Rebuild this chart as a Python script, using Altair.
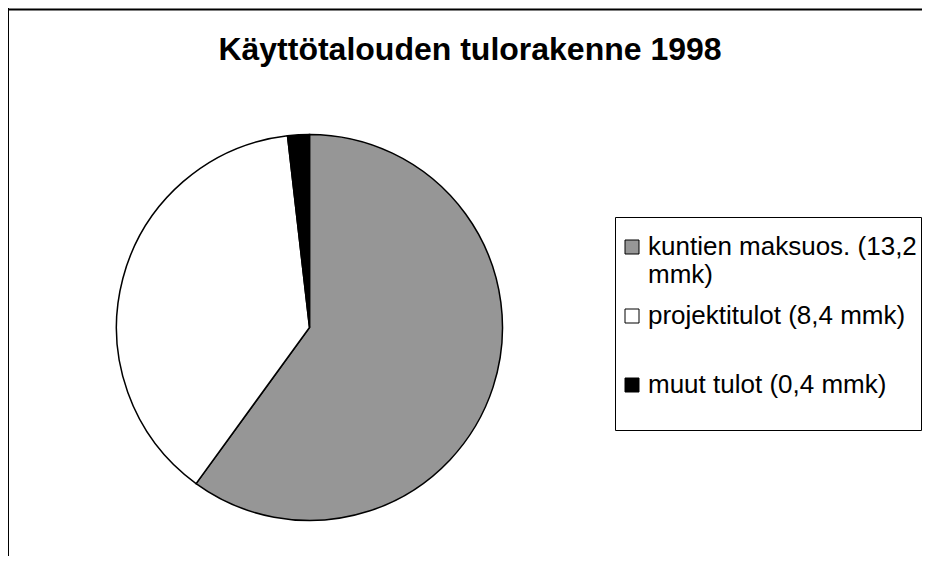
import altair as alt
import pandas as pd

# ---- data ----
categories = ["kuntien maksuos.", "projektitulot", "muut tulot"]
values_mmk = [13.2, 8.4, 0.4]
legend_labels = [
    "kuntien maksuos. (13,2|mmk)",
    "projektitulot (8,4 mmk)|",
    "muut tulot (0,4 mmk)|",
]
slice_colors = ["#969696", "#ffffff", "#000000"]
slice_order = [0, 1, 2]
title_text = "Käyttötalouden tulorakenne 1998"

df = pd.DataFrame({
    "category": categories,
    "label": legend_labels,
    "value": values_mmk,
    "order": slice_order,
})

W, H = 914, 548
FONT = "Liberation Sans"

pie = alt.Chart(df).mark_arc(
    outerRadius=193, stroke="black", strokeWidth=1.5
).encode(
    theta=alt.Theta("value:Q", stack=True),
    order=alt.Order("order:Q", sort="ascending"),
    color=alt.Color(
        "label:N",
        scale=alt.Scale(domain=legend_labels, range=slice_colors),
        sort=legend_labels,
        legend=alt.Legend(
            orient="none",
            legendX=607,
            legendY=209,
            title=" ",
            titleFontSize=11,
            titlePadding=2,
            padding=4,
            strokeColor="black",
            fillColor="white",
            symbolType="square",
            symbolSize=196,
            symbolStrokeColor="black",
            symbolStrokeWidth=1,
            symbolOpacity=1,
            labelFont=FONT,
            labelFontSize=26,
            labelColor="black",
            labelLimit=0,
            labelOffset=3,
            rowPadding=15,
            labelExpr="split(datum.label, '|')",
        ),
    ),
    x=alt.value(301.5),
    y=alt.value(319.5),
)

frame = alt.Chart(pd.DataFrame({"k": [0]})).mark_rule(
    color="black", strokeWidth=2
)
left_edge = frame.encode(x=alt.value(0), y=alt.value(0), y2=alt.value(H))
top_edge = frame.encode(y=alt.value(1.5), x=alt.value(0), x2=alt.value(W))

chart = alt.layer(pie, left_edge, top_edge).properties(
    width=W,
    height=H,
    padding=0,
    autosize=alt.AutoSizeParams(type="none"),
    title=alt.TitleParams(
        title_text,
        font=FONT,
        fontSize=32,
        fontWeight="bold",
        color="black",
        anchor="middle",
        offset=-60,
        dx=5,
    ),
).configure(
    style={"guide-label": {"lineHeight": 28}},
    background="white",
).configure_view(stroke=None)

chart.save("out.html", embed_options={"renderer": "svg", "actions": False})
